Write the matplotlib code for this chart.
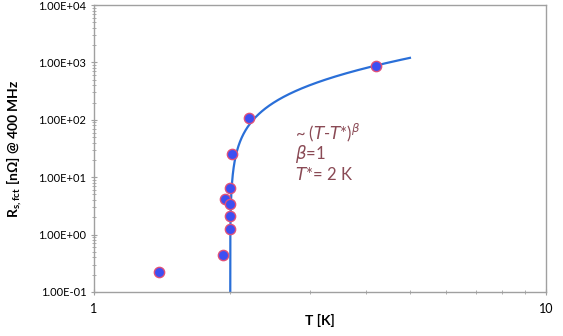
import numpy as np
import matplotlib.pyplot as plt
from matplotlib.ticker import FixedLocator, LogLocator, NullFormatter

# measured points
temp_k = [1.39, 1.93, 1.95, 2.0, 2.0, 2.0, 2.0, 2.02, 2.2, 4.21]
rs_nohm = [0.22, 0.44, 4.2, 1.25, 2.1, 3.4, 6.5, 25, 106, 865]

# fit ~ A (T - T*)^beta
fit_a = 400.0
fit_tstar = 2.0
fit_beta = 1.0
fit_tmax = 5.0

plt.rcParams['font.family'] = ['Lato', 'DejaVu Sans']

fig = plt.figure(figsize=(5.63, 3.36), dpi=100)
ax = fig.add_axes([94 / 563, 44 / 336, 452 / 563, 287 / 336])

t_fit = np.logspace(np.log10(fit_tstar + 1e-6), np.log10(fit_tmax), 600)
ax.plot(t_fit, fit_a * (t_fit - fit_tstar) ** fit_beta, color='#2a6fd8', lw=1.6, zorder=2)
ax.scatter(temp_k, rs_nohm, s=55, color='#3d4ff2', edgecolors='#e0507a',
           linewidths=1.0, zorder=3)

ax.set_xscale('log')
ax.set_yscale('log')
ax.set_xlim(1, 10)
ax.set_ylim(0.1, 1e4)

ax.xaxis.set_major_locator(FixedLocator([1, 10]))
ax.set_xticklabels(['1', '10'])
ax.xaxis.set_minor_locator(LogLocator(subs=np.arange(2, 10)))
ax.xaxis.set_minor_formatter(NullFormatter())
ytick_vals = [0.1, 1, 10, 100, 1000, 10000]
ax.yaxis.set_major_locator(FixedLocator(ytick_vals))
ax.set_yticklabels(['1.00E-01', '1.00E+00', '1.00E+01', '1.00E+02', '1.00E+03', '1.00E+04'])
ax.yaxis.set_minor_locator(LogLocator(subs=np.arange(2, 10)))
ax.yaxis.set_minor_formatter(NullFormatter())

for s in ax.spines.values():
    s.set_color('#a0a0a0')
    s.set_linewidth(1.0)
ax.tick_params(which='both', colors='#a0a0a0', labelcolor='black', direction='inout')
ax.tick_params(which='major', length=4, labelsize=8)
ax.tick_params(which='minor', length=3)
ax.tick_params(axis='x', labelsize=9, pad=6)

ax.set_xlabel('T [K]', fontsize=10, fontweight='bold', labelpad=-1)
ax.set_ylabel(r'R$_{\mathregular{s,fct}}$ [n$\mathregular{\Omega}$] @ 400 MHz', fontsize=10,
              fontweight='bold', labelpad=10)

txt_color = '#8a4a55'
ax.text(2.78, 60, r'~ ($T$-$T$*)$^{\beta}$', color=txt_color, fontsize=12, va='center')
ax.text(2.78, 25, r'$\beta$=1', color=txt_color, fontsize=12, va='center')
ax.text(2.78, 11, r'$T$*= 2 K', color=txt_color, fontsize=12, va='center')

fig.savefig('out.png', dpi=100)
